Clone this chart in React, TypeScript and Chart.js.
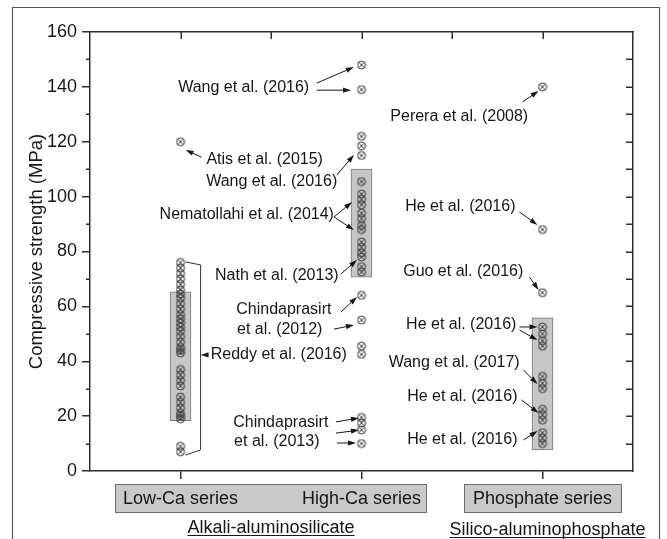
import React, { useEffect, useRef } from 'react';
import { Chart, registerables } from 'chart.js';

Chart.register(...registerables);

// ---- data ----
const CATEGORIES = ['Low-Ca series', 'High-Ca series', 'Phosphate series'];
const CATEGORY_X = [1, 2, 3];
const GROUPS = ['Alkali-aluminosilicate', 'Silico-aluminophosphate'];

const LOW_CA = [120, 76, 74, 72, 70, 68, 66, 64.5, 63, 61, 59, 57, 55.5, 54, 52.5, 51, 49, 47, 45, 44, 43, 37, 35, 33, 31, 27, 25, 23, 21, 20, 19, 9, 7];
const HIGH_CA = [148, 139, 122, 118.5, 115, 105.5, 101, 99, 97, 94, 92, 89.5, 88, 83.5, 81.5, 79.5, 78, 74.5, 72.5, 64, 55, 45.5, 42.5, 19.5, 17.5, 15, 10];
const PHOSPHATE = [140, 88, 65, 52.5, 50, 47.5, 45.5, 34.5, 32, 30, 22.5, 20.5, 18.5, 14, 12, 10];

const BOX_LOW = [18.3, 65.3];
const BOX_HIGH = [70.6, 110];
const BOX_PHOS = [7.7, 55.8];

const Y_MIN = 0;
const Y_MAX = 160;
const Y_STEP = 20;
const Y_MINOR = 10;
const X_MIN = 0.5;
const X_MAX = 3.5;
const TOP_TICKS = [1, 1.5, 2, 2.5, 3];

// annotation labels: [text, x, y] in data units
const LABELS: [string, number, number][] = [
  ['Wang et al. (2016)', 1.349, 139.9],
  ['Atis et al. (2015)', 1.465, 113.4],
  ['Wang et al. (2016)', 1.504, 105.3],
  ['Nematollahi et al. (2014)', 1.366, 93.3],
  ['Nath et al. (2013)', 1.532, 71.1],
  ['Chindaprasirt', 1.571, 59.0],
  ['et al. (2012)', 1.548, 51.7],
  ['Reddy et al. (2016)', 1.543, 42.3],
  ['Chindaprasirt', 1.554, 17.5],
  ['et al. (2013)', 1.532, 10.6],
  ['Perera et al. (2008)', 2.54, 129.0],
  ['He et al. (2016)', 2.546, 96.2],
  ['Guo et al. (2016)', 2.562, 72.5],
  ['He et al. (2016)', 2.551, 53.2],
  ['Wang et al. (2017)', 2.512, 39.4],
  ['He et al. (2016)', 2.557, 27.3],
  ['He et al. (2016)', 2.557, 11.3],
];

// arrows: [x1, y1, x2(tip), y2(tip)] in data units
const ARROWS: [number, number, number, number][] = [
  [1.753, 141.4, 1.958, 147.2],
  [1.753, 138.8, 1.942, 138.8],
  [1.116, 114.4, 1.028, 117.0],
  [1.864, 107.9, 1.958, 115.2],
  [1.848, 92.6, 1.947, 98.0],
  [1.848, 92.6, 1.958, 87.8],
  [1.886, 71.8, 1.975, 76.9],
  [1.886, 57.9, 1.975, 63.4],
  [1.848, 51.7, 1.958, 53.2],
  [1.155, 42.3, 1.111, 42.3],
  [1.859, 17.9, 1.986, 19.3],
  [1.859, 13.8, 1.986, 14.9],
  [1.864, 10.2, 1.97, 10.2],
  [2.889, 134.5, 2.978, 138.5],
  [2.873, 94.4, 2.972, 89.7],
  [2.928, 70.7, 2.978, 66.0],
  [2.873, 52.5, 2.972, 52.5],
  [2.873, 51.4, 2.972, 47.7],
  [2.895, 36.8, 2.972, 31.7],
  [2.884, 25.9, 2.978, 21.1],
  [2.895, 11.3, 2.972, 14.6],
];

const BRACKET: [number, number][] = [
  [1.028, 76.2],
  [1.111, 75.1],
  [1.111, 7.7],
  [1.028, 5.8],
];

const FONT = 'Arial, "Liberation Sans", Helvetica, sans-serif';
const INK = '#161616';
const AXIS = '#2e2e2e';

function makeMarker(): HTMLCanvasElement {
  const c = document.createElement('canvas');
  c.width = 10;
  c.height = 10;
  const g = c.getContext('2d')!;
  g.strokeStyle = '#404040';
  g.lineWidth = 1;
  g.beginPath();
  g.arc(5, 5, 4, 0, Math.PI * 2);
  g.stroke();
  const d = 4 * Math.SQRT1_2;
  g.beginPath();
  g.moveTo(5 - d, 5 - d);
  g.lineTo(5 + d, 5 + d);
  g.moveTo(5 + d, 5 - d);
  g.lineTo(5 - d, 5 + d);
  g.stroke();
  return c;
}

function drawArrow(ctx: CanvasRenderingContext2D, x1: number, y1: number, x2: number, y2: number) {
  const ang = Math.atan2(y2 - y1, x2 - x1);
  const len = 8;
  const hw = 2.6;
  const bx = x2 - len * Math.cos(ang);
  const by = y2 - len * Math.sin(ang);
  ctx.beginPath();
  ctx.moveTo(x1, y1);
  ctx.lineTo(bx, by);
  ctx.stroke();
  ctx.beginPath();
  ctx.moveTo(x2, y2);
  ctx.lineTo(bx + hw * Math.sin(ang), by - hw * Math.cos(ang));
  ctx.lineTo(bx - hw * Math.sin(ang), by + hw * Math.cos(ang));
  ctx.closePath();
  ctx.fill();
}

const decor = {
  id: 'decor',
  beforeDraw(chart: any) {
    const ctx = chart.ctx as CanvasRenderingContext2D;
    ctx.save();
    ctx.fillStyle = '#fff';
    ctx.fillRect(0, 0, chart.width, chart.height);
    ctx.strokeStyle = '#555';
    ctx.lineWidth = 1.2;
    ctx.beginPath();
    ctx.moveTo(12.5, chart.height + 5);
    ctx.lineTo(12.5, 7.5);
    ctx.lineTo(659.5, 7.5);
    ctx.lineTo(659.5, chart.height + 5);
    ctx.stroke();
    ctx.restore();
  },
  afterDatasetsDraw(chart: any) {
    const ctx = chart.ctx as CanvasRenderingContext2D;
    const xs = chart.scales.x;
    const ys = chart.scales.y;
    ctx.save();
    // bracket
    ctx.strokeStyle = '#333';
    ctx.lineWidth = 1;
    ctx.beginPath();
    BRACKET.forEach(([bx, by], i) => {
      const px = xs.getPixelForValue(bx);
      const py = ys.getPixelForValue(by);
      if (i === 0) ctx.moveTo(px, py);
      else ctx.lineTo(px, py);
    });
    ctx.stroke();
    // arrows
    ctx.strokeStyle = INK;
    ctx.fillStyle = INK;
    ctx.lineWidth = 1;
    ARROWS.forEach(([a, b, c, d]) => {
      drawArrow(ctx, xs.getPixelForValue(a), ys.getPixelForValue(b), xs.getPixelForValue(c), ys.getPixelForValue(d));
    });
    // labels
    ctx.font = `16px ${FONT}`;
    ctx.textAlign = 'center';
    ctx.textBaseline = 'middle';
    ctx.fillStyle = INK;
    LABELS.forEach(([t, lx, ly]) => {
      ctx.fillText(t, xs.getPixelForValue(lx), ys.getPixelForValue(ly));
    });
    ctx.restore();
  },
  afterDraw(chart: any) {
    const ctx = chart.ctx as CanvasRenderingContext2D;
    const xs = chart.scales.x;
    const ys = chart.scales.y;
    const area = chart.chartArea;
    ctx.save();
    ctx.strokeStyle = AXIS;
    ctx.lineWidth = 1.5;
    ctx.beginPath();
    for (let v = Y_MIN + Y_MINOR; v < Y_MAX; v += Y_STEP) {
      const py = Math.round(ys.getPixelForValue(v)) + 0.25;
      ctx.moveTo(area.left - 4, py);
      ctx.lineTo(area.left, py);
    }
    for (let v = Y_MIN + Y_MINOR; v < Y_MAX; v += Y_MINOR) {
      const py = Math.round(ys.getPixelForValue(v)) + 0.25;
      ctx.moveTo(area.right - 7, py);
      ctx.lineTo(area.right, py);
    }
    TOP_TICKS.forEach((v) => {
      const px = Math.round(xs.getPixelForValue(v)) + 0.25;
      ctx.moveTo(px, area.top);
      ctx.lineTo(px, area.top + 7);
    });
    ctx.stroke();

    // category boxes
    ctx.font = `18px ${FONT}`;
    const p = CATEGORY_X.map((v) => xs.getPixelForValue(v));
    const w = CATEGORIES.map((t) => ctx.measureText(t).width);
    const top = Math.round(area.bottom) + 13.5;
    const h = 28;
    const b1l = Math.round(p[0] - w[0] / 2 - 8) + 0.5;
    const b1r = Math.round(p[1] + w[1] / 2 + 5) + 0.5;
    const b2l = Math.round(p[2] - w[2] / 2 - 9) + 0.5;
    const b2r = Math.round(p[2] + w[2] / 2 + 9) + 0.5;
    ctx.fillStyle = '#c9c9c9';
    ctx.strokeStyle = '#6e6e6e';
    ctx.lineWidth = 1;
    ctx.fillRect(b1l, top, b1r - b1l, h);
    ctx.strokeRect(b1l, top, b1r - b1l, h);
    ctx.fillRect(b2l, top, b2r - b2l, h);
    ctx.strokeRect(b2l, top, b2r - b2l, h);
    ctx.fillStyle = INK;
    ctx.textAlign = 'center';
    ctx.textBaseline = 'middle';
    CATEGORIES.forEach((t, i) => ctx.fillText(t, p[i], top + h / 2 + 1));

    // group labels, underlined
    ctx.textBaseline = 'alphabetic';
    const groupPos = [
      [(p[0] + p[1]) / 2, area.bottom + 62],
      [p[2] + 5, area.bottom + 64],
    ];
    GROUPS.forEach((t, i) => {
      const [gx, gy] = groupPos[i];
      ctx.fillText(t, gx, gy);
      const gw = ctx.measureText(t).width;
      ctx.strokeStyle = INK;
      ctx.lineWidth = 1.2;
      ctx.beginPath();
      ctx.moveTo(gx - gw / 2, gy + 2.5);
      ctx.lineTo(gx + gw / 2, gy + 2.5);
      ctx.stroke();
    });
    ctx.restore();
  },
};

export default function App() {
  const ref = useRef<HTMLCanvasElement | null>(null);

  useEffect(() => {
    if (!ref.current) return;
    const marker = makeMarker();
    const pts = (xv: number, arr: number[]) => arr.map((v) => ({ x: xv, y: v }));
    const border = { display: true, color: AXIS, width: 1.5 };
    const chart = new Chart(ref.current, {
      type: 'scatter',
      data: {
        datasets: [
          {
            type: 'bar',
            data: [
              { x: CATEGORY_X[0], y: BOX_LOW },
              { x: CATEGORY_X[1], y: BOX_HIGH },
              { x: CATEGORY_X[2], y: BOX_PHOS },
            ],
            backgroundColor: '#c6c6c6',
            borderColor: '#7a7a7a',
            borderWidth: 1,
            borderSkipped: false,
            barThickness: 21,
            grouped: false,
            order: 2,
          } as any,
          { data: pts(CATEGORY_X[0], LOW_CA), pointStyle: marker, order: 1 } as any,
          { data: pts(CATEGORY_X[1], HIGH_CA), pointStyle: marker, order: 1 } as any,
          { data: pts(CATEGORY_X[2], PHOSPHATE), pointStyle: marker, order: 1 } as any,
        ],
      },
      options: {
        responsive: false,
        animation: false,
        events: [],
        layout: { padding: 0 },
        plugins: { legend: { display: false }, tooltip: { enabled: false } },
        scales: {
          x: {
            type: 'linear',
            position: 'bottom',
            min: X_MIN,
            max: X_MAX,
            offset: false,
            grid: { display: true, drawOnChartArea: false, drawTicks: true, tickLength: 8, color: AXIS, lineWidth: 1.5, offset: false },
            border,
            ticks: { display: false },
            afterBuildTicks: (s: any) => {
              s.ticks = CATEGORY_X.map((value) => ({ value }));
            },
            afterFit: (s: any) => {
              s.height = 68;
            },
          },
          x2: {
            type: 'linear',
            position: 'top',
            min: X_MIN,
            max: X_MAX,
            grid: { display: false },
            border,
            ticks: { display: false },
            afterFit: (s: any) => {
              s.height = 32;
            },
          },
          y: {
            type: 'linear',
            position: 'left',
            min: Y_MIN,
            max: Y_MAX,
            ticks: { stepSize: Y_STEP, font: { family: FONT, size: 18 }, color: INK, padding: 5 },
            grid: { display: true, drawOnChartArea: false, drawTicks: true, tickLength: 8, color: AXIS, lineWidth: 1.5 },
            border,
            title: {
              display: true,
              text: 'Compressive strength (MPa)',
              font: { family: FONT, size: 18.5 },
              color: INK,
              padding: { top: 26, bottom: 0 },
            },
            afterFit: (s: any) => {
              s.width = 90;
            },
          },
          y2: {
            type: 'linear',
            position: 'right',
            min: Y_MIN,
            max: Y_MAX,
            grid: { display: false },
            border,
            ticks: { display: false },
            afterFit: (s: any) => {
              s.width = 34;
            },
          },
        },
      } as any,
      plugins: [decor],
    });
    return () => chart.destroy();
  }, []);

  return (
    <div style={{ position: 'absolute', left: 0, top: 0, width: 667, height: 539, background: '#fff' }}>
      <canvas ref={ref} width={667} height={539} style={{ display: 'block', width: 667, height: 539 }} />
    </div>
  );
}
